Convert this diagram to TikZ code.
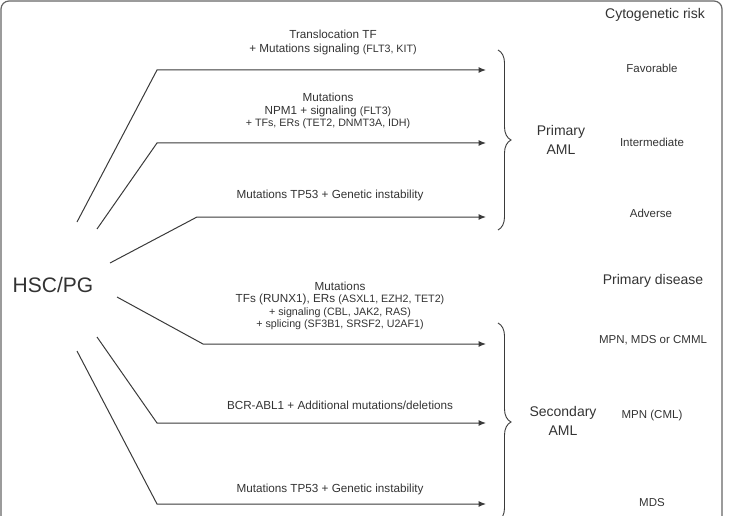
\documentclass[tikz,border=0pt]{standalone}
\usepackage{fontspec}
\setmainfont{Liberation Sans}
\usetikzlibrary{arrows.meta,decorations.pathreplacing}
\definecolor{ink}{HTML}{333333}
\definecolor{wire}{HTML}{3A3A3A}
\definecolor{framec}{HTML}{666666}
\newcommand{\sm}[1]{{\fontsize{10.7}{12}\selectfont #1}}
\begin{document}
\begin{tikzpicture}[x=1pt,y=-1pt,
  lbl/.style={text=ink,font=\fontsize{11.7}{14}\selectfont,align=center,inner sep=0pt},
  lbltight/.style={lbl,font=\fontsize{11.7}{12.5}\selectfont},
  rlbl/.style={text=ink,font=\fontsize{11.5}{14}\selectfont,align=center,inner sep=0pt},
  head/.style={text=ink,font=\fontsize{14}{19}\selectfont,align=center,inner sep=0pt},
  path/.style={draw=wire,line width=1pt,-{Latex[length=7.5pt,width=6pt]}},
  bracec/.style={draw=wire,line width=0.9pt,decorate,decoration={brace,amplitude=13pt}},
  framebox/.style={draw=framec,line width=1.2pt,rounded corners=8pt}]
\useasboundingbox (0,0) rectangle (731,516);
\clip (0,0) rectangle (731,516);
\draw[framebox] (1,1) rectangle (722,540);
\node[text=ink,font=\fontsize{21}{24}\selectfont,inner sep=0pt] (hsc) at (53,285) {HSC/PG};
% path coordinates
\coordinate (s1) at (77,222); \coordinate (k1) at (157,70);  \coordinate (e1) at (486,70);
\coordinate (s2) at (97,229); \coordinate (k2) at (157,143); \coordinate (e2) at (486,143);
\coordinate (s3) at (110,263);\coordinate (k3) at (197,217); \coordinate (e3) at (486,217);
\coordinate (s4) at (117,297);\coordinate (k4) at (203,344); \coordinate (e4) at (486,344);
\coordinate (s5) at (97,337); \coordinate (k5) at (157,423); \coordinate (e5) at (486,423);
\coordinate (s6) at (77,351); \coordinate (k6) at (157,504); \coordinate (e6) at (486,504);
\foreach \i in {1,...,6} {\draw[path] (s\i) -- (k\i) -- (e\i);}
% labels on paths
\node[lbl] (t1) at (333,42) {Translocation TF\\+ Mutations signaling \sm{(FLT3, KIT)}};
\node[lbltight] (t2) at (328,111) {Mutations\\NPM1 + signaling \sm{(FLT3)}\\\sm{+ TFs, ERs (TET2, DNMT3A, IDH)}};
\node[lbl] (t3) at (330,195) {Mutations TP53 + Genetic instability};
\node[lbltight] (t4) at (340,306) {Mutations\\TFs (RUNX1), ERs \sm{(ASXL1, EZH2, TET2)}\\\sm{+ signaling (CBL, JAK2, RAS)}\\\sm{+ splicing (SF3B1, SRSF2, U2AF1)}};
\node[lbl] (t5) at (340,405) {BCR-ABL1 + Additional mutations/deletions};
\node[lbl] (t6) at (330,489) {Mutations TP53 + Genetic instability};
% braces
\coordinate (b1a) at (498,50);  \coordinate (b1b) at (498,230);
\coordinate (b2a) at (498,323); \coordinate (b2b) at (498,521);
\draw[bracec] (b1a) -- (b1b);
\draw[bracec] (b2a) -- (b2b);
\node[head] (prim) at (561,140) {Primary\\AML};
\node[head] (sec) at (563,421) {Secondary\\AML};
% right column
\node[head] (cyto) at (655,15) {Cytogenetic risk};
\node[rlbl] (fav) at (652,68) {Favorable};
\node[rlbl] (int) at (652,142) {Intermediate};
\node[rlbl] (adv) at (651,213) {Adverse};
\node[head] (pdis) at (653,281) {Primary disease};
\node[rlbl] (mmc) at (653,340) {MPN, MDS or CMML};
\node[rlbl] (cml) at (652,416) {MPN (CML)};
\node[rlbl] (mds) at (652,503) {MDS};
\end{tikzpicture}
\end{document}
